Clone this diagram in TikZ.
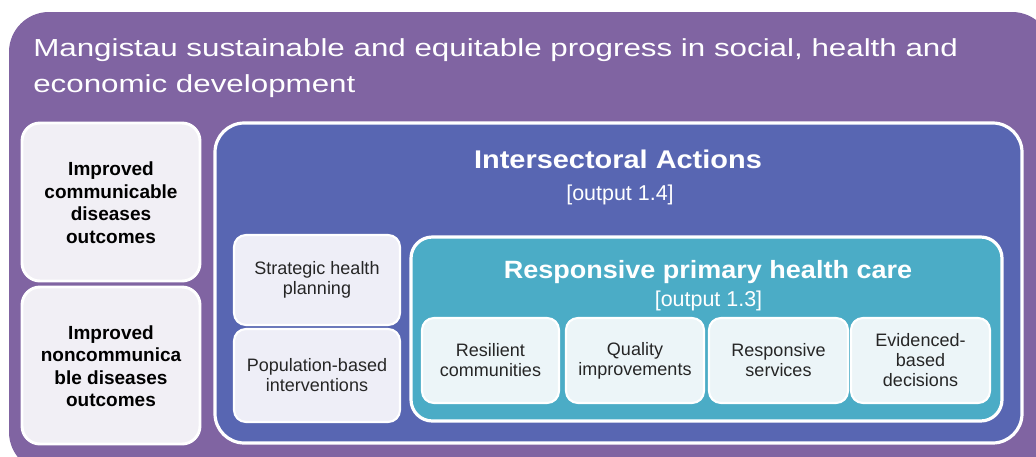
\documentclass[tikz,border=0pt]{standalone}
\usepackage{fontspec}
\setmainfont{Liberation Sans}
\newfontfamily\titlefont[FakeStretch=1.27]{Liberation Sans}
\newfontfamily\headAfont[FakeStretch=1.13]{Liberation Sans}
\newfontfamily\headBfont[FakeStretch=1.08]{Liberation Sans}
\usetikzlibrary{fit}
\definecolor{purp}{HTML}{8064A2}
\definecolor{bluebg}{HTML}{5866B2}
\definecolor{tealbg}{HTML}{4BACC6}
\definecolor{lightL}{HTML}{F1EFF5}
\definecolor{lightB}{HTML}{EEEEF7}
\definecolor{lightT}{HTML}{ECF5F8}
\definecolor{txt}{HTML}{262626}
\begin{document}
\begin{tikzpicture}[x=0.75pt,y=-0.75pt,
  panel/.style={draw=white, line width=2.2pt, inner sep=0pt},
  leftbox/.style={panel, fill=lightL, rounded corners=13.5pt},
  bluebox/.style={panel, fill=lightB, rounded corners=9pt, line width=1.6pt},
  tealbox/.style={panel, fill=lightT, rounded corners=9pt, line width=1.6pt},
  lefttext/.style={align=center, inner sep=0pt, text=black,
    font=\fontsize{14.25}{16.9}\selectfont\bfseries},
  smalltext/.style={align=center, inner sep=0pt, text=txt,
    font=\fontsize{13.5}{15}\selectfont},
  outlab/.style={anchor=base, text=white, inner sep=0pt, font=\fontsize{16.1}{18}\selectfont}
]
\useasboundingbox (0,0) rectangle (1036,457);
\clip (0,0) rectangle (1036,457);
\fill[white] (0,0) rectangle (1036,457);

% outer purple panel
\node[fill=purp, inner sep=0pt, rounded corners=30pt, fit={(9,12) (1052,472)}] (outer) {};
\node[anchor=north west, inner sep=0pt, align=left, text=white,
  font=\titlefont\fontsize{18.5}{27}\selectfont] (title) at (33,38)
  {Mangistau sustainable and equitable progress in social, health and\\economic development};

% left outcome boxes
\node[leftbox, fit={(22,123) (200,281)}] (cd) {};
\node[lefttext] (cdT) at ([yshift=-0.5pt]cd.center) {Improved\\communicable\\diseases\\outcomes};
\node[leftbox, fit={(22,287) (200,444)}] (ncd) {};
\node[lefttext] (ncdT) at ([yshift=-0.5pt]ncd.center) {Improved\\noncommunica\\ble diseases\\outcomes};

% intersectoral actions panel
\node[panel, fill=bluebg, line width=2.4pt, rounded corners=22pt, fit={(215,123) (1022,443)}] (inter) {};
\node[anchor=base, text=white, inner sep=0pt,
  font=\headAfont\fontsize{19.2}{22}\selectfont\bfseries] (interT) at (618,168) {Intersectoral Actions};
\node[outlab] (interO) at (620,200) {[output 1.4]};

\node[bluebox, fit={(234,235) (400,325)}] (shp) {};
\node[smalltext] (shpT) at (shp.center) {Strategic health\\planning};
\node[bluebox, fit={(234,329) (400,422)}] (pbi) {};
\node[smalltext] (pbiT) at (pbi.center) {Population-based\\interventions};

% responsive primary health care panel
\node[panel, fill=tealbg, line width=2.4pt, rounded corners=16pt, fit={(411,237) (1002,421)}] (phc) {};
\node[anchor=base, text=white, inner sep=0pt,
  font=\headBfont\fontsize{18.75}{22}\selectfont\bfseries] (phcT) at (708,278) {Responsive primary health care};
\node[outlab] (phcO) at (708.5,306) {[output 1.3]};

\node[tealbox, fit={(422,318) (559,403)}] (rc) {};
\node[smalltext] (rcT) at (rc.center) {Resilient\\communities};
\node[tealbox, fit={(566,318) (704,403)}] (qi) {};
\node[smalltext] (qiT) at (qi.center) {Quality\\improvements};
\node[tealbox, fit={(709,318) (848,403)}] (rs) {};
\node[smalltext] (rsT) at (rs.center) {Responsive\\services};
\node[tealbox, fit={(851,318) (990,403)}] (ebd) {};
\node[smalltext] (ebdT) at (ebd.center) {Evidenced-\\based\\decisions};
\end{tikzpicture}
\end{document}
